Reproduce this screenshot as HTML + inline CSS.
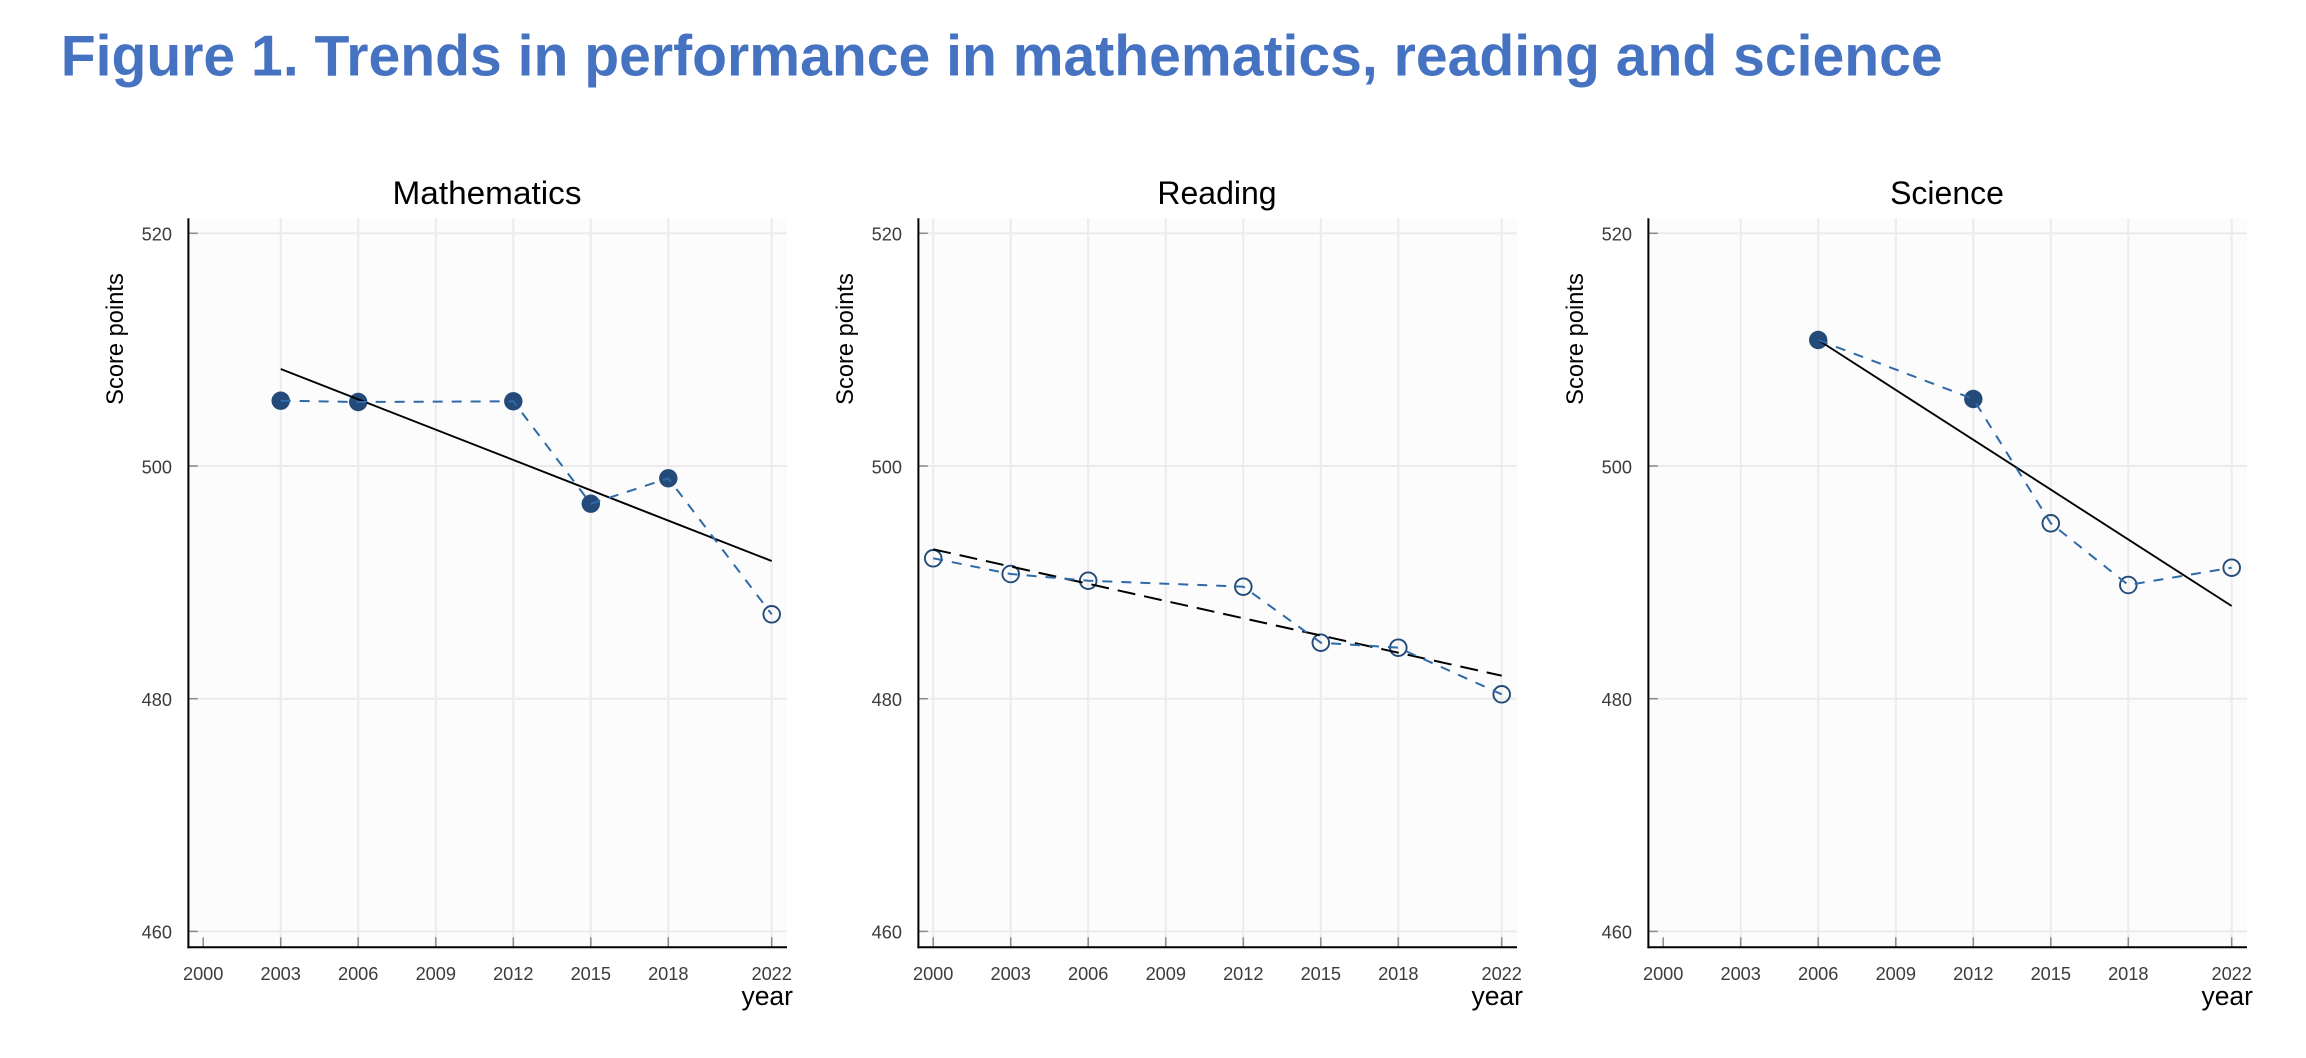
<!DOCTYPE html>
<html>
<head>
<meta charset="utf-8">
<style>
  html, body { margin: 0; padding: 0; background: #ffffff; }
  svg { display: block; }
  text { font-family: "Liberation Sans", Arial, sans-serif; }
</style>
</head>
<body>
<svg xmlns="http://www.w3.org/2000/svg" width="2306" height="1058" viewBox="0 0 2306 1058">
  <rect x="0" y="0" width="2306" height="1058" fill="#ffffff"/>

  <!-- Main title -->
  <text x="60.7" y="75.7" font-size="57.5" font-weight="bold" fill="#4672c2" textLength="1882" lengthAdjust="spacingAndGlyphs">Figure 1. Trends in performance in mathematics, reading and science</text>

  <!-- ================= PANEL 1: Mathematics ================= -->
  <g>
    <rect x="188.4" y="218.3" width="598.6" height="729" fill="#fcfcfc"/>
    <!-- horizontal gridlines -->
    <g stroke="#ebebeb" stroke-width="2">
      <line x1="189" y1="233.3" x2="787" y2="233.3"/>
      <line x1="189" y1="466" x2="787" y2="466"/>
      <line x1="189" y1="698.7" x2="787" y2="698.7"/>
      <line x1="189" y1="931.4" x2="787" y2="931.4"/>
      <!-- vertical gridlines (no 2000) -->
      <line x1="280.7" y1="218.3" x2="280.7" y2="947"/>
      <line x1="358.2" y1="218.3" x2="358.2" y2="947"/>
      <line x1="435.8" y1="218.3" x2="435.8" y2="947"/>
      <line x1="513.3" y1="218.3" x2="513.3" y2="947"/>
      <line x1="590.8" y1="218.3" x2="590.8" y2="947"/>
      <line x1="668.3" y1="218.3" x2="668.3" y2="947"/>
      <line x1="771.7" y1="218.3" x2="771.7" y2="947"/>
    </g>
    <!-- markers -->
    <g fill="#234a78">
      <circle cx="280.7" cy="400.7" r="9.2"/>
      <circle cx="358.2" cy="402" r="9.2"/>
      <circle cx="513.3" cy="401.3" r="9.2"/>
      <circle cx="590.8" cy="503.7" r="9.2"/>
      <circle cx="668.3" cy="478.3" r="9.2"/>
    </g>
    <circle cx="771.7" cy="614.3" r="8.3" fill="none" stroke="#234a78" stroke-width="1.9"/>
    <!-- trend -->
    <line x1="280.7" y1="369" x2="771.7" y2="561" stroke="#000" stroke-width="1.9"/>
    <!-- connecting dashed line -->
    <polyline points="280.7,400.7 358.2,402 513.3,401.3 590.8,503.7 668.3,478.3 771.7,614.3" fill="none" stroke="#2f6aa8" stroke-width="2" stroke-dasharray="10 9"/>
  </g>

  <!-- ================= PANEL 2: Reading ================= -->
  <g>
    <rect x="918.4" y="218.3" width="598.6" height="729" fill="#fcfcfc"/>
    <g stroke="#ebebeb" stroke-width="2">
      <line x1="919" y1="233.3" x2="1517" y2="233.3"/>
      <line x1="919" y1="466" x2="1517" y2="466"/>
      <line x1="919" y1="698.7" x2="1517" y2="698.7"/>
      <line x1="919" y1="931.4" x2="1517" y2="931.4"/>
      <line x1="933.2" y1="218.3" x2="933.2" y2="947"/>
      <line x1="1010.7" y1="218.3" x2="1010.7" y2="947"/>
      <line x1="1088.2" y1="218.3" x2="1088.2" y2="947"/>
      <line x1="1165.8" y1="218.3" x2="1165.8" y2="947"/>
      <line x1="1243.3" y1="218.3" x2="1243.3" y2="947"/>
      <line x1="1320.8" y1="218.3" x2="1320.8" y2="947"/>
      <line x1="1398.3" y1="218.3" x2="1398.3" y2="947"/>
      <line x1="1501.7" y1="218.3" x2="1501.7" y2="947"/>
    </g>
    <g fill="none" stroke="#234a78" stroke-width="1.9">
      <circle cx="933.2" cy="558.3" r="8.3"/>
      <circle cx="1010.7" cy="574" r="8.3"/>
      <circle cx="1088.2" cy="580.7" r="8.3"/>
      <circle cx="1243.3" cy="586.7" r="8.3"/>
      <circle cx="1320.8" cy="642.7" r="8.3"/>
      <circle cx="1398.3" cy="647.7" r="8.3"/>
      <circle cx="1501.7" cy="694.3" r="8.3"/>
    </g>
    <line x1="933.2" y1="549.3" x2="1501.7" y2="675.7" stroke="#000" stroke-width="2" stroke-dasharray="18 9"/>
    <polyline points="933.2,558.3 1010.7,574 1088.2,580.7 1243.3,586.7 1320.8,642.7 1398.3,647.7 1501.7,694.3" fill="none" stroke="#2f6aa8" stroke-width="2" stroke-dasharray="10 9"/>
  </g>

  <!-- ================= PANEL 3: Science ================= -->
  <g>
    <rect x="1648.4" y="218.3" width="598.6" height="729" fill="#fcfcfc"/>
    <g stroke="#ebebeb" stroke-width="2">
      <line x1="1649" y1="233.3" x2="2247" y2="233.3"/>
      <line x1="1649" y1="466" x2="2247" y2="466"/>
      <line x1="1649" y1="698.7" x2="2247" y2="698.7"/>
      <line x1="1649" y1="931.4" x2="2247" y2="931.4"/>
      <line x1="1740.7" y1="218.3" x2="1740.7" y2="947"/>
      <line x1="1818.2" y1="218.3" x2="1818.2" y2="947"/>
      <line x1="1895.8" y1="218.3" x2="1895.8" y2="947"/>
      <line x1="1973.3" y1="218.3" x2="1973.3" y2="947"/>
      <line x1="2050.8" y1="218.3" x2="2050.8" y2="947"/>
      <line x1="2128.3" y1="218.3" x2="2128.3" y2="947"/>
      <line x1="2231.7" y1="218.3" x2="2231.7" y2="947"/>
    </g>
    <g fill="#234a78">
      <circle cx="1818.2" cy="340" r="9.2"/>
      <circle cx="1973.3" cy="399" r="9.2"/>
    </g>
    <g fill="none" stroke="#234a78" stroke-width="1.9">
      <circle cx="2050.8" cy="523.3" r="8.3"/>
      <circle cx="2128.3" cy="585" r="8.3"/>
      <circle cx="2231.7" cy="567.7" r="8.3"/>
    </g>
    <line x1="1818.2" y1="340" x2="2231.7" y2="606" stroke="#000" stroke-width="1.9"/>
    <polyline points="1818.2,340 1973.3,399 2050.8,523.3 2128.3,585 2231.7,567.7" fill="none" stroke="#2f6aa8" stroke-width="2" stroke-dasharray="10 9"/>
  </g>

  <!-- ================= Shared axes / labels (per panel) ================= -->
  <defs>
    <g id="axes">
      <!-- y ticks -->
      <g stroke="#8a8a8a" stroke-width="1.5">
        <line x1="188.4" y1="233.3" x2="197.8" y2="233.3"/>
        <line x1="188.4" y1="466" x2="197.8" y2="466"/>
        <line x1="188.4" y1="698.7" x2="197.8" y2="698.7"/>
        <line x1="188.4" y1="931.4" x2="197.8" y2="931.4"/>
        <!-- x ticks -->
        <line x1="203.2" y1="937.3" x2="203.2" y2="947"/>
        <line x1="280.7" y1="937.3" x2="280.7" y2="947"/>
        <line x1="358.2" y1="937.3" x2="358.2" y2="947"/>
        <line x1="435.8" y1="937.3" x2="435.8" y2="947"/>
        <line x1="513.3" y1="937.3" x2="513.3" y2="947"/>
        <line x1="590.8" y1="937.3" x2="590.8" y2="947"/>
        <line x1="668.3" y1="937.3" x2="668.3" y2="947"/>
        <line x1="771.7" y1="937.3" x2="771.7" y2="947"/>
      </g>
      <!-- axis lines -->
      <line x1="188.4" y1="218.3" x2="188.4" y2="948.3" stroke="#000" stroke-width="2"/>
      <line x1="187.4" y1="947.3" x2="787" y2="947.3" stroke="#000" stroke-width="2"/>
      <!-- y tick labels -->
      <g font-size="18.2" fill="#3c3c3c" text-anchor="end">
        <text x="172" y="240.6">520</text>
        <text x="172" y="473.3">500</text>
        <text x="172" y="706">480</text>
        <text x="172" y="938.7">460</text>
      </g>
      <!-- x tick labels -->
      <g font-size="18.2" fill="#3c3c3c" text-anchor="middle">
        <text x="203.2" y="980">2000</text>
        <text x="280.7" y="980">2003</text>
        <text x="358.2" y="980">2006</text>
        <text x="435.8" y="980">2009</text>
        <text x="513.3" y="980">2012</text>
        <text x="590.8" y="980">2015</text>
        <text x="668.3" y="980">2018</text>
        <text x="771.7" y="980">2022</text>
      </g>
      <!-- axis titles -->
      <text x="793" y="1005" font-size="26.5" fill="#000" text-anchor="end">year</text>
      <text transform="translate(123,339) rotate(-90)" x="0" y="0" font-size="23.7" fill="#000" text-anchor="middle">Score points</text>
    </g>
  </defs>

  <use href="#axes"/>
  <use href="#axes" transform="translate(730,0)"/>
  <use href="#axes" transform="translate(1460,0)"/>

  <!-- Panel titles -->
  <text x="487" y="204" font-size="32" fill="#000" text-anchor="middle" textLength="189" lengthAdjust="spacingAndGlyphs">Mathematics</text>
  <text x="1217" y="204" font-size="32" fill="#000" text-anchor="middle">Reading</text>
  <text x="1947" y="204" font-size="32" fill="#000" text-anchor="middle">Science</text>
</svg>
</body>
</html>
